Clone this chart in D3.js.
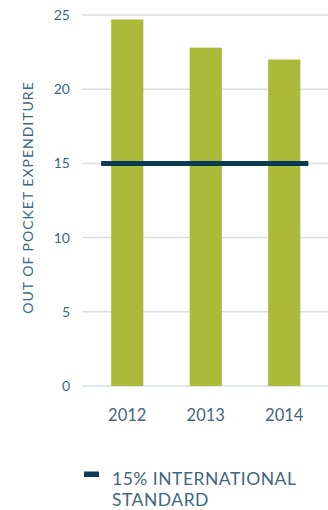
<!DOCTYPE html>
<html>
<head>
<meta charset="utf-8">
<script src="https://cdn.jsdelivr.net/npm/d3@7"></script>
<style>
  html, body { margin: 0; padding: 0; background: #ffffff; }
  svg { display: block; font-family: Lato, "Open Sans", sans-serif; }
</style>
</head>
<body>
<svg id="chart" width="328" height="510"></svg>
<script>
// Out-of-pocket expenditure by year, against the 15% international standard
const years = ["2012", "2013", "2014"];
const expenditure = [24.7, 22.8, 22.0];
const yTicks = [0, 5, 10, 15, 20, 25];
const standardValue = 15;
const legendLines = ["15% INTERNATIONAL", "STANDARD"];
const yTitle = "OUT OF POCKET EXPENDITURE";

const barColor = "#abbb39";
const lineColor = "#0c3a52";
const gridColor = "#d6dfe4";
const textColor = "#41677d";

const svg = d3.select("#chart");

const x = d3.scaleBand()
  .domain(years)
  .range([88, 323.5])
  .paddingInner(0.59)
  .paddingOuter(0.295);

const y = d3.scaleLinear()
  .domain([0, 25])
  .range([386, 15]);

// horizontal gridlines
svg.append("g")
  .selectAll("line")
  .data(yTicks)
  .join("line")
  .attr("x1", 82)
  .attr("x2", 328)
  .attr("y1", d => y(d))
  .attr("y2", d => y(d))
  .attr("stroke", gridColor)
  .attr("stroke-width", 1.5);

// y tick labels
const yAxis = d3.axisLeft(y).tickValues(yTicks).tickSize(0).tickPadding(0);
const gy = svg.append("g").attr("transform", "translate(70,0)").call(yAxis);
gy.select(".domain").remove();
gy.selectAll("text")
  .attr("fill", textColor)
  .attr("font-size", 14)
  .attr("font-family", "Lato, 'Open Sans', sans-serif");

// bars
svg.append("g")
  .selectAll("rect")
  .data(years.map((yr, i) => ({ yr, v: expenditure[i] })))
  .join("rect")
  .attr("x", d => x(d.yr))
  .attr("width", x.bandwidth())
  .attr("y", d => y(d.v))
  .attr("height", d => y(0) - y(d.v))
  .attr("fill", barColor);

// standard reference line
svg.append("line")
  .attr("x1", x(years[0]) - 10)
  .attr("x2", x(years[years.length - 1]) + x.bandwidth() + 8)
  .attr("y1", y(standardValue))
  .attr("y2", y(standardValue))
  .attr("stroke", lineColor)
  .attr("stroke-width", 5);

// x axis labels
const xAxis = d3.axisBottom(x).tickSize(0).tickPadding(0);
const gx = svg.append("g").attr("transform", "translate(0,409)").call(xAxis);
gx.select(".domain").remove();
gx.selectAll("text")
  .attr("fill", textColor)
  .attr("font-size", 16.5)
  .attr("font-family", "Lato, 'Open Sans', sans-serif");

// y axis title
svg.append("text")
  .attr("transform", `translate(32.5,${(82 + 313) / 2}) rotate(-90)`)
  .attr("text-anchor", "middle")
  .attr("fill", textColor)
  .attr("font-size", 14)
  .attr("letter-spacing", 1)
  .text(yTitle);

// legend
svg.append("rect")
  .attr("x", 84)
  .attr("y", 471.5)
  .attr("width", 15)
  .attr("height", 5.5)
  .attr("fill", lineColor);

svg.append("g")
  .selectAll("text")
  .data(legendLines)
  .join("text")
  .attr("x", 112)
  .attr("y", (d, i) => 485 + i * 21)
  .attr("fill", textColor)
  .attr("font-size", 17.5)
  .attr("letter-spacing", 0.5)
  .text(d => d);
</script>
</body>
</html>
